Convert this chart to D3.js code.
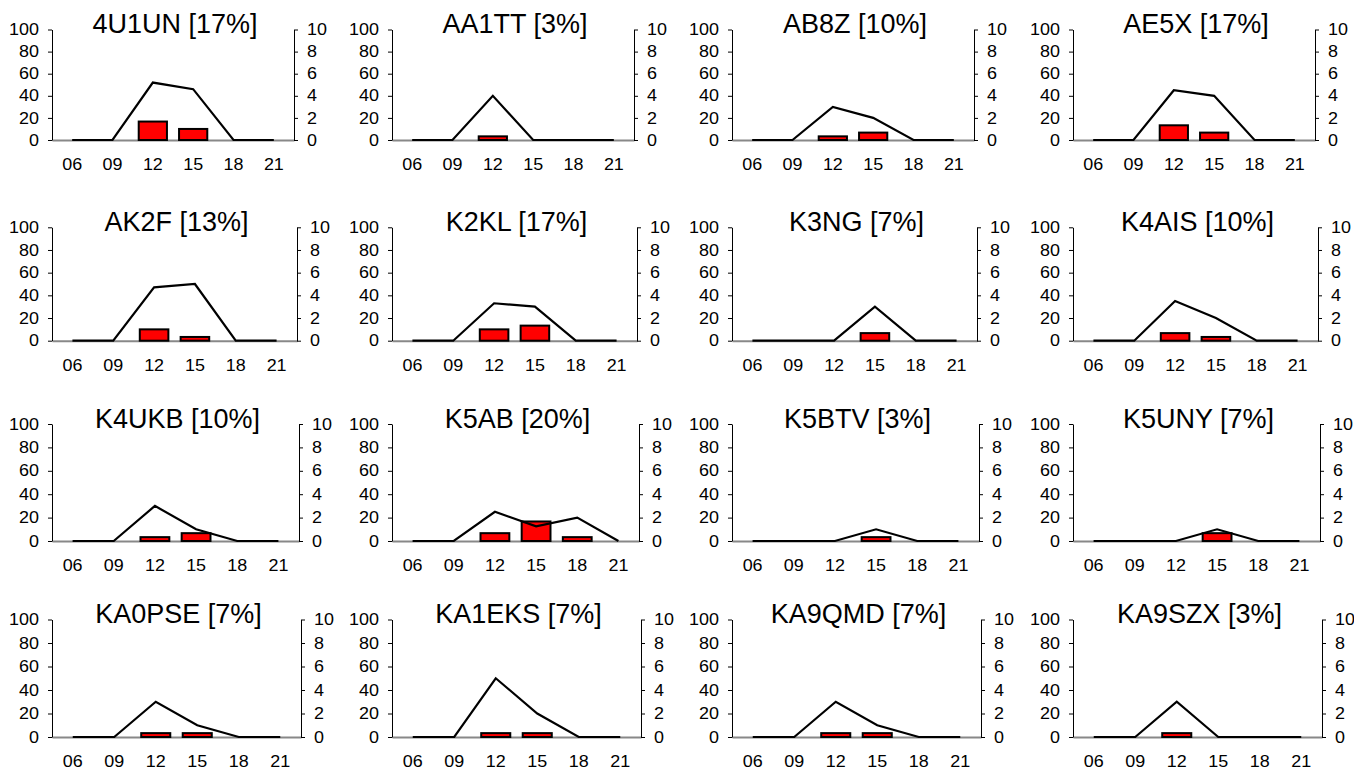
<!DOCTYPE html>
<html lang="en">
<head>
<meta charset="utf-8">
<script src="https://d3js.org/d3.v7.min.js"></script>
<title>Hourly activity per call</title>
<style>
  body { margin: 0; background: #fff; }
  text { font-family: "Liberation Sans", Arial, sans-serif; fill: #000; }
</style>
</head>
<body>
<svg width="1354" height="771"></svg>
<script>
// hours of the day on the x axis
var hours = ["06", "09", "12", "15", "18", "21"];

var calls = ["4U1UN", "AA1TT", "AB8Z", "AE5X",
             "AK2F", "K2KL", "K3NG", "K4AIS",
             "K4UKB", "K5AB", "K5BTV", "K5UNY",
             "KA0PSE", "KA1EKS", "KA9QMD", "KA9SZX"];

var shares = [17, 3, 10, 17, 13, 17, 7, 10, 10, 20, 3, 7, 7, 7, 7, 3];

// line series, left axis (0-100)
var lineVals = [
  [0, 0, 52, 46, 0, 0], [0, 0, 40, 0, 0, 0], [0, 0, 30, 20, 0, 0], [0, 0, 45, 40, 0, 0],
  [0, 0, 47, 50, 0, 0], [0, 0, 33, 30, 0, 0], [0, 0, 0, 30, 0, 0], [0, 0, 35, 20, 0, 0],
  [0, 0, 30, 10, 0, 0], [0, 0, 25, 12.5, 20, 0], [0, 0, 0, 10, 0, 0], [0, 0, 0, 10, 0, 0],
  [0, 0, 30, 10, 0, 0], [0, 0, 50, 20, 0, 0], [0, 0, 30, 10, 0, 0], [0, 0, 30, 0, 0, 0]
];

// bar series, right axis (0-10)
var barVals = [
  [0, 0, 1.67, 1, 0, 0], [0, 0, 0.33, 0, 0, 0], [0, 0, 0.33, 0.67, 0, 0], [0, 0, 1.33, 0.67, 0, 0],
  [0, 0, 1, 0.33, 0, 0], [0, 0, 1, 1.33, 0, 0], [0, 0, 0, 0.67, 0, 0], [0, 0, 0.67, 0.33, 0, 0],
  [0, 0, 0.33, 0.67, 0, 0], [0, 0, 0.67, 1.67, 0.33, 0], [0, 0, 0, 0.33, 0, 0], [0, 0, 0, 0.67, 0, 0],
  [0, 0, 0.33, 0.33, 0, 0], [0, 0, 0.33, 0.33, 0, 0], [0, 0, 0.33, 0.33, 0, 0], [0, 0, 0.33, 0, 0, 0]
];

var leftTicks = [0, 20, 40, 60, 80, 100];
var rightTicks = [0, 2, 4, 6, 8, 10];

// panel grid
var colX = [52, 392, 732, 1073];
var rowTop = [29.5, 227.3, 424, 619.5];
var rowBottom = [140, 340.7, 541, 737];
var rowWidth = [242, 245, 247, 249];

var svg = d3.select("svg");

function stretch(sel, k) {
  sel.each(function() {
    var w = this.getComputedTextLength();
    d3.select(this).attr("textLength", w * k).attr("lengthAdjust", "spacingAndGlyphs");
  });
}

calls.forEach(function(name, i) {
  var r = Math.floor(i / 4), c = i % 4;
  var w = rowWidth[r], h = rowBottom[r] - rowTop[r];
  var g = svg.append("g").attr("transform", "translate(" + colX[c] + "," + rowTop[r] + ")");

  var x = d3.scaleBand().domain(hours).range([0, w]).padding(0);
  var yL = d3.scaleLinear().domain([0, 100]).range([h, 0]);
  var yR = d3.scaleLinear().domain([0, 10]).range([h, 0]);

  // x axis (grey baseline, no tick marks)
  var ax = g.append("g")
      .attr("transform", "translate(0," + h + ")")
      .call(d3.axisBottom(x).tickSize(0).tickPadding(19));
  ax.select(".domain").attr("stroke", "#888").attr("stroke-width", 2);
  ax.selectAll("text").style("font-size", "16px").attr("fill", "#000").call(stretch, 1.12);

  var al = g.append("g")
      .call(d3.axisLeft(yL).tickValues(leftTicks).tickSize(4).tickSizeOuter(0).tickPadding(9));
  al.selectAll("text").style("font-size", "16px").attr("fill", "#000").call(stretch, 1.12);

  var ar = g.append("g")
      .attr("transform", "translate(" + w + ",0)")
      .call(d3.axisRight(yR).tickValues(rightTicks).tickSize(4).tickSizeOuter(0).tickPadding(9));
  ar.selectAll("text").style("font-size", "16px").attr("fill", "#000").call(stretch, 1.12);

  var barW = x.bandwidth() * 0.7;
  g.selectAll(".bar")
    .data(barVals[i].map(function(v, j) { return {h: hours[j], v: v}; }).filter(function(d) { return d.v > 0; }))
    .enter().append("rect")
      .attr("class", "bar")
      .attr("x", function(d) { return x(d.h) + (x.bandwidth() - barW) / 2; })
      .attr("y", function(d) { return yR(d.v); })
      .attr("width", barW)
      .attr("height", function(d) { return h - yR(d.v); })
      .attr("fill", "#ff0000")
      .attr("stroke", "#000")
      .attr("stroke-width", 2);

  var line = d3.line()
    .x(function(d, j) { return x(hours[j]) + x.bandwidth() / 2; })
    .y(function(d) { return yL(d); });

  g.append("path")
    .datum(lineVals[i])
    .attr("d", line)
    .attr("fill", "none")
    .attr("stroke", "#000")
    .attr("stroke-width", 2.2);

  g.append("text")
    .attr("x", w / 2 + 2)
    .attr("y", 3.5)
    .attr("text-anchor", "middle")
    .style("font-size", "27px")
    .text(name + " [" + shares[i] + "%]");
});
</script>
</body>
</html>
